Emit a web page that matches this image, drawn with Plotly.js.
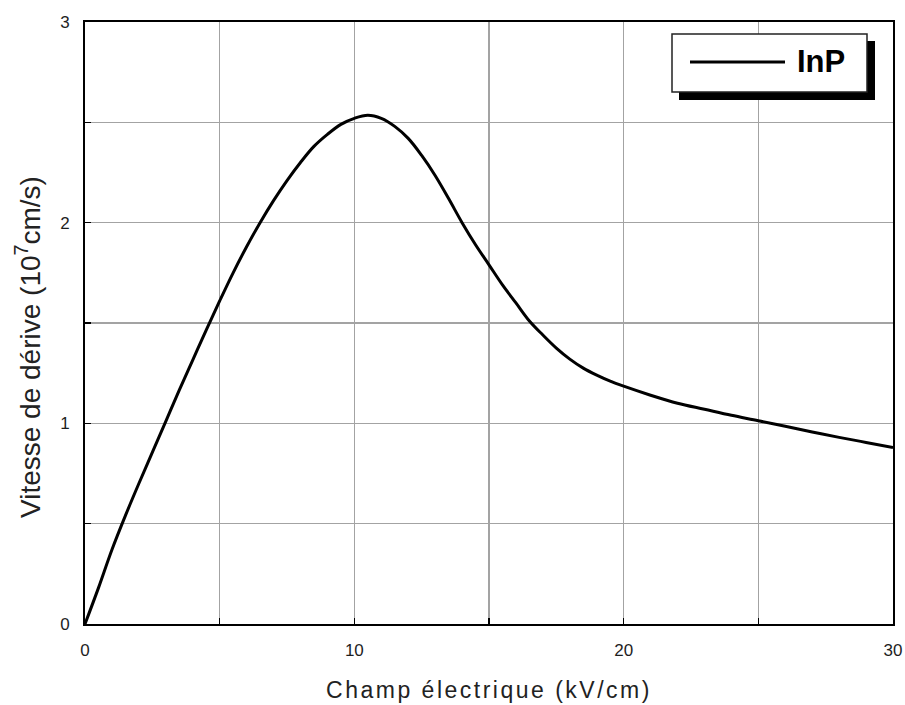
<!DOCTYPE html>
<html>
<head>
<meta charset="utf-8">
<script src="https://cdn.plot.ly/plotly-3.0.1.min.js"></script>
<style>
  html, body { margin: 0; padding: 0; background: #fff; }
  #chart { width: 905px; height: 705px; }
  .g-xtitle text { letter-spacing: 2.5px; }
</style>
</head>
<body>
<div id="chart"></div>
<script>
// Electron drift velocity in InP versus applied electric field
const seriesName = "InP";
const fieldKVcm = [0, 0.5, 1, 1.5, 2, 2.5, 3, 3.5, 4, 4.5, 5, 5.5, 6, 6.5, 7, 7.5, 8, 8.5,
  9, 9.5, 10, 10.5, 11, 11.5, 12, 12.5, 13, 13.5, 14, 14.5, 15, 15.5, 16, 16.5, 17, 17.5,
  18, 18.5, 19, 19.5, 20, 21, 22, 23, 24, 25, 26, 27, 28, 29, 30];
const velocity = [0, 0.18, 0.37, 0.54, 0.70, 0.855, 1.01, 1.165, 1.315, 1.465, 1.61, 1.75,
  1.88, 2.0, 2.11, 2.21, 2.30, 2.38, 2.44, 2.49, 2.52, 2.535, 2.52, 2.48, 2.42, 2.335, 2.235,
  2.12, 2.0, 1.89, 1.79, 1.69, 1.60, 1.51, 1.44, 1.375, 1.32, 1.275, 1.24, 1.21, 1.185,
  1.14, 1.10, 1.07, 1.04, 1.013, 0.985, 0.957, 0.93, 0.905, 0.88];

const xTickVals = [0, 10, 20, 30];
const xTickText = ["0", "10", "20", "30"];
const yTickVals = [0, 1, 2, 3];
const yTickText = ["0", "1", "2", "3"];

const xTitle = "Champ électrique (kV/cm)";
const yTitle = "Vitesse de dérive (10<sup>7</sup>cm/s)";

// plot-area geometry in pixels
const W = 905, H = 705;
const M = { l: 85, r: 12, t: 22, b: 81 };
const PW = W - M.l - M.r, PH = H - M.t - M.b;
const px = X => (X - M.l) / PW;          // page x pixel -> paper
const py = Y => (H - M.b - Y) / PH;      // page y pixel -> paper

const FONT = "Liberation Sans, Arial, Helvetica, sans-serif";
const GRID = "#a3a3a3";

const trace = {
  x: fieldKVcm,
  y: velocity,
  type: "scatter",
  mode: "lines",
  name: seriesName,
  line: { color: "#000", width: 3, shape: "spline", smoothing: 1 },
  hoverinfo: "x+y"
};

const axisCommon = {
  showline: true, linecolor: "#000", linewidth: 2, mirror: true,
  ticks: "inside", ticklen: 6, tickwidth: 1.5, tickcolor: "#000",
  showgrid: true, gridcolor: GRID, gridwidth: 1.5,
  zeroline: false, fixedrange: true,
  tickfont: { family: FONT, size: 17, color: "#1e1e1e" },
  tickmode: "array"
};

const layout = {
  width: W, height: H,
  margin: M,
  paper_bgcolor: "#fff",
  plot_bgcolor: "#fff",
  showlegend: false,
  xaxis: Object.assign({}, axisCommon, {
    range: [0, 30], tickvals: xTickVals, ticktext: xTickText, ticklabelstandoff: 10,
    minor: { dtick: 5, ticks: "inside", ticklen: 6, tickwidth: 1.5, tickcolor: "#000",
             showgrid: true, gridcolor: GRID, gridwidth: 1.5 },
    title: { text: xTitle, standoff: 22, font: { family: FONT, size: 23, color: "#222" } }
  }),
  yaxis: Object.assign({}, axisCommon, {
    range: [0, 3], tickvals: yTickVals, ticktext: yTickText, ticklabelstandoff: 10,
    minor: { dtick: 0.5, ticks: "inside", ticklen: 6, tickwidth: 1.5, tickcolor: "#000",
             showgrid: true, gridcolor: GRID, gridwidth: 1.5 }
  }),
  shapes: [
    // legend drop shadow
    { type: "rect", xref: "paper", yref: "paper", layer: "above",
      x0: px(679), x1: px(875), y0: py(100), y1: py(41),
      fillcolor: "#000", line: { width: 0 } },
    // legend box
    { type: "rect", xref: "paper", yref: "paper", layer: "above",
      x0: px(672), x1: px(867), y0: py(92), y1: py(34),
      fillcolor: "#fff", line: { color: "#222", width: 1.5 } },
    // legend line sample
    { type: "line", xref: "paper", yref: "paper", layer: "above",
      x0: px(690), x1: px(785), y0: py(62), y1: py(62),
      line: { color: "#000", width: 3 } }
  ],
  annotations: [
    // y-axis title, centred a little below the middle of the axis
    { text: yTitle, xref: "paper", yref: "paper", x: px(28), y: py(347),
      xanchor: "center", yanchor: "middle", textangle: -90, showarrow: false,
      font: { family: FONT, size: 28, color: "#222" } },
    { text: "<b>" + seriesName + "</b>", xref: "paper", yref: "paper", x: px(795), y: py(61),
      xanchor: "left", yanchor: "middle", showarrow: false,
      font: { family: FONT, size: 31, color: "#000" } }
  ]
};

Plotly.newPlot("chart", [trace], layout, { displayModeBar: false, staticPlot: true });
</script>
</body>
</html>
